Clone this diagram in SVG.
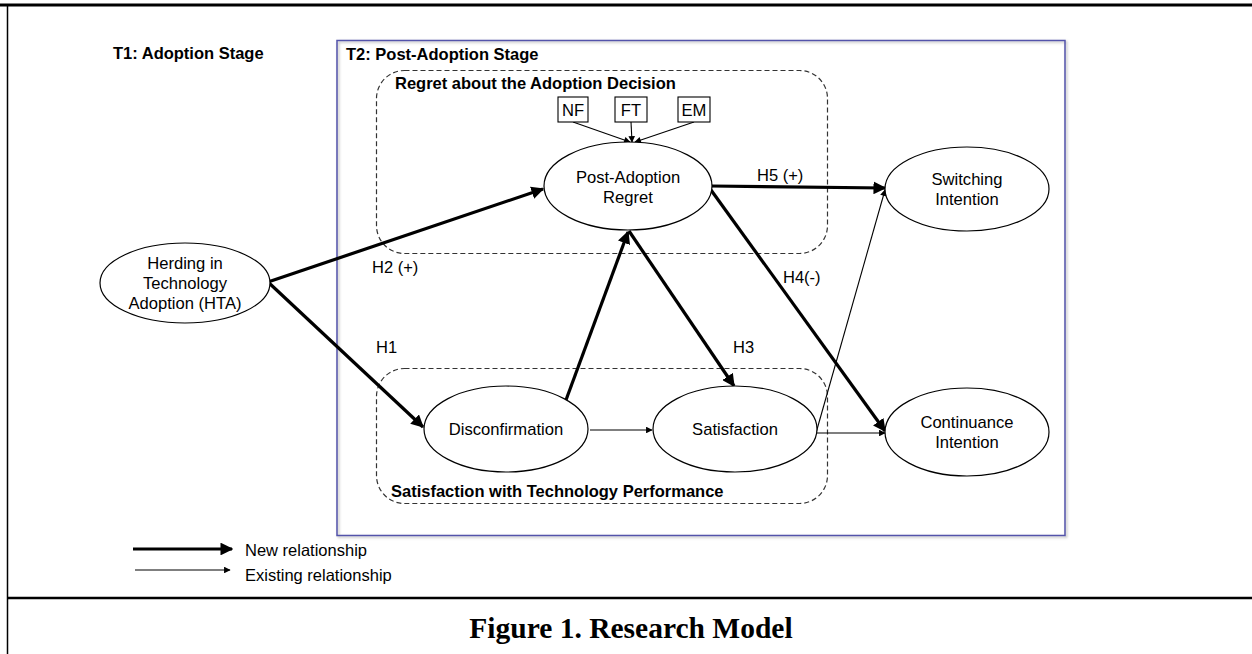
<svg xmlns="http://www.w3.org/2000/svg" width="1252" height="654" viewBox="0 0 1252 654">
<defs>
<marker id="ah" viewBox="0 0 10 10" refX="9" refY="5" markerWidth="4" markerHeight="4" orient="auto" markerUnits="strokeWidth"><path d="M0,0 L10,5 L0,10 z" fill="#000"/></marker>
<marker id="ahs" viewBox="0 0 10 10" refX="9" refY="5" markerWidth="7" markerHeight="6" orient="auto" markerUnits="strokeWidth"><path d="M0,0 L10,5 L0,10 z" fill="#000"/></marker>
<filter id="sh" x="-5%" y="-5%" width="110%" height="110%"><feDropShadow dx="1.5" dy="1.5" stdDeviation="1" flood-color="#888" flood-opacity="0.6"/></filter>
</defs>
<style>
text{font-family:"Liberation Sans",Arial,sans-serif;fill:#000}
.n{font-size:16.6px;text-anchor:middle}
.b{font-size:16.5px;font-weight:bold}
.l{font-size:16.5px}
.e{fill:#fff;stroke:#000;stroke-width:1.2}
.dash{fill:none;stroke:#333;stroke-width:1.2;stroke-dasharray:5,3}
.thick{stroke:#000;stroke-width:3.2;fill:none;marker-end:url(#ah)}
.thin{stroke:#000;stroke-width:1.1;fill:none;marker-end:url(#ahs)}
</style>
<rect width="1252" height="654" fill="#fff"/>
<g id="frame">
<line x1="0" y1="5" x2="1252" y2="5" stroke="#000" stroke-width="3"/>
<line x1="7.5" y1="5" x2="7.5" y2="654" stroke="#000" stroke-width="1.5"/>
<line x1="7" y1="598" x2="1252" y2="598" stroke="#000" stroke-width="2.5"/>
<text x="631" y="638" text-anchor="middle" style="font-family:'Liberation Serif','Times New Roman',serif;font-size:29.5px;font-weight:bold">Figure 1. Research Model</text>
</g>
<g id="stage-t2">
<rect x="337" y="40.5" width="728" height="495" fill="none" stroke="#5252aa" stroke-width="1.5" filter="url(#sh)"/>
<text class="b" x="346" y="60">T2: Post-Adoption Stage</text>
</g>
<text class="b" x="113" y="59">T1: Adoption Stage</text>
<g id="group-regret">
<rect class="dash" x="376.5" y="70.5" width="451" height="183" rx="28"/>
<text class="b" x="395" y="89">Regret about the Adoption Decision</text>
</g>
<g id="group-satisfaction">
<rect class="dash" x="376.5" y="368.5" width="451" height="135" rx="28"/>
<text class="b" x="391" y="497">Satisfaction with Technology Performance</text>
</g>
<g id="connectors">
<line class="thick" x1="268" y1="282" x2="543" y2="189"/>
<line class="thick" x1="268" y1="282" x2="423" y2="427"/>
<line class="thick" x1="566" y1="400" x2="628" y2="232"/>
<line class="thick" x1="629" y1="231" x2="734" y2="386"/>
<line class="thick" x1="711" y1="186" x2="885" y2="188"/>
<line class="thick" x1="711" y1="190" x2="885" y2="431"/>
<line class="thin" x1="590" y1="430" x2="652" y2="430"/>
<line class="thin" x1="816" y1="433" x2="885" y2="190"/>
<line class="thin" x1="816" y1="433" x2="885" y2="433"/>
<line class="thin" x1="573" y1="122" x2="630" y2="142"/>
<line class="thin" x1="631" y1="122" x2="632" y2="142"/>
<line class="thin" x1="694" y1="122" x2="635" y2="142"/>
<text class="l" x="757" y="181">H5 (+)</text>
<text class="l" x="783" y="283">H4(-)</text>
<text class="l" x="372" y="273">H2 (+)</text>
<text class="l" x="376" y="353">H1</text>
<text class="l" x="733" y="353">H3</text>
</g>
<g id="node-hta">
<ellipse class="e" cx="185" cy="283" rx="85" ry="40"/>
<text class="n" x="185" y="269">Herding in</text>
<text class="n" x="185" y="289">Technology</text>
<text class="n" x="185" y="309">Adoption (HTA)</text>
</g>
<g id="node-regret">
<ellipse class="e" cx="628" cy="186" rx="84" ry="44"/>
<text class="n" x="628" y="183">Post-Adoption</text>
<text class="n" x="628" y="203">Regret</text>
</g>
<g id="node-nf"><rect x="558" y="97" width="30" height="25" fill="#fff" stroke="#000" stroke-width="1.1"/><text class="n" x="573" y="116">NF</text></g>
<g id="node-ft"><rect x="615" y="97" width="32" height="25" fill="#fff" stroke="#000" stroke-width="1.1"/><text class="n" x="631" y="116">FT</text></g>
<g id="node-em"><rect x="678" y="97" width="32" height="25" fill="#fff" stroke="#000" stroke-width="1.1"/><text class="n" x="694" y="116">EM</text></g>
<g id="node-switching">
<ellipse class="e" cx="967" cy="189" rx="82" ry="42"/>
<text class="n" x="967" y="185">Switching</text>
<text class="n" x="967" y="205">Intention</text>
</g>
<g id="node-disconfirmation">
<ellipse class="e" cx="506" cy="429" rx="82" ry="43"/>
<text class="n" x="506" y="435">Disconfirmation</text>
</g>
<g id="node-satisfaction">
<ellipse class="e" cx="735" cy="429" rx="82" ry="43"/>
<text class="n" x="735" y="435">Satisfaction</text>
</g>
<g id="node-continuance">
<ellipse class="e" cx="967" cy="432" rx="82" ry="44"/>
<text class="n" x="967" y="428">Continuance</text>
<text class="n" x="967" y="448">Intention</text>
</g>
<g id="legend">
<line class="thick" x1="133" y1="549" x2="232" y2="549"/>
<text class="l" x="245" y="556">New relationship</text>
<line class="thin" x1="135" y1="570" x2="230" y2="570"/>
<text class="l" x="245" y="581">Existing relationship</text>
</g>
</svg>
